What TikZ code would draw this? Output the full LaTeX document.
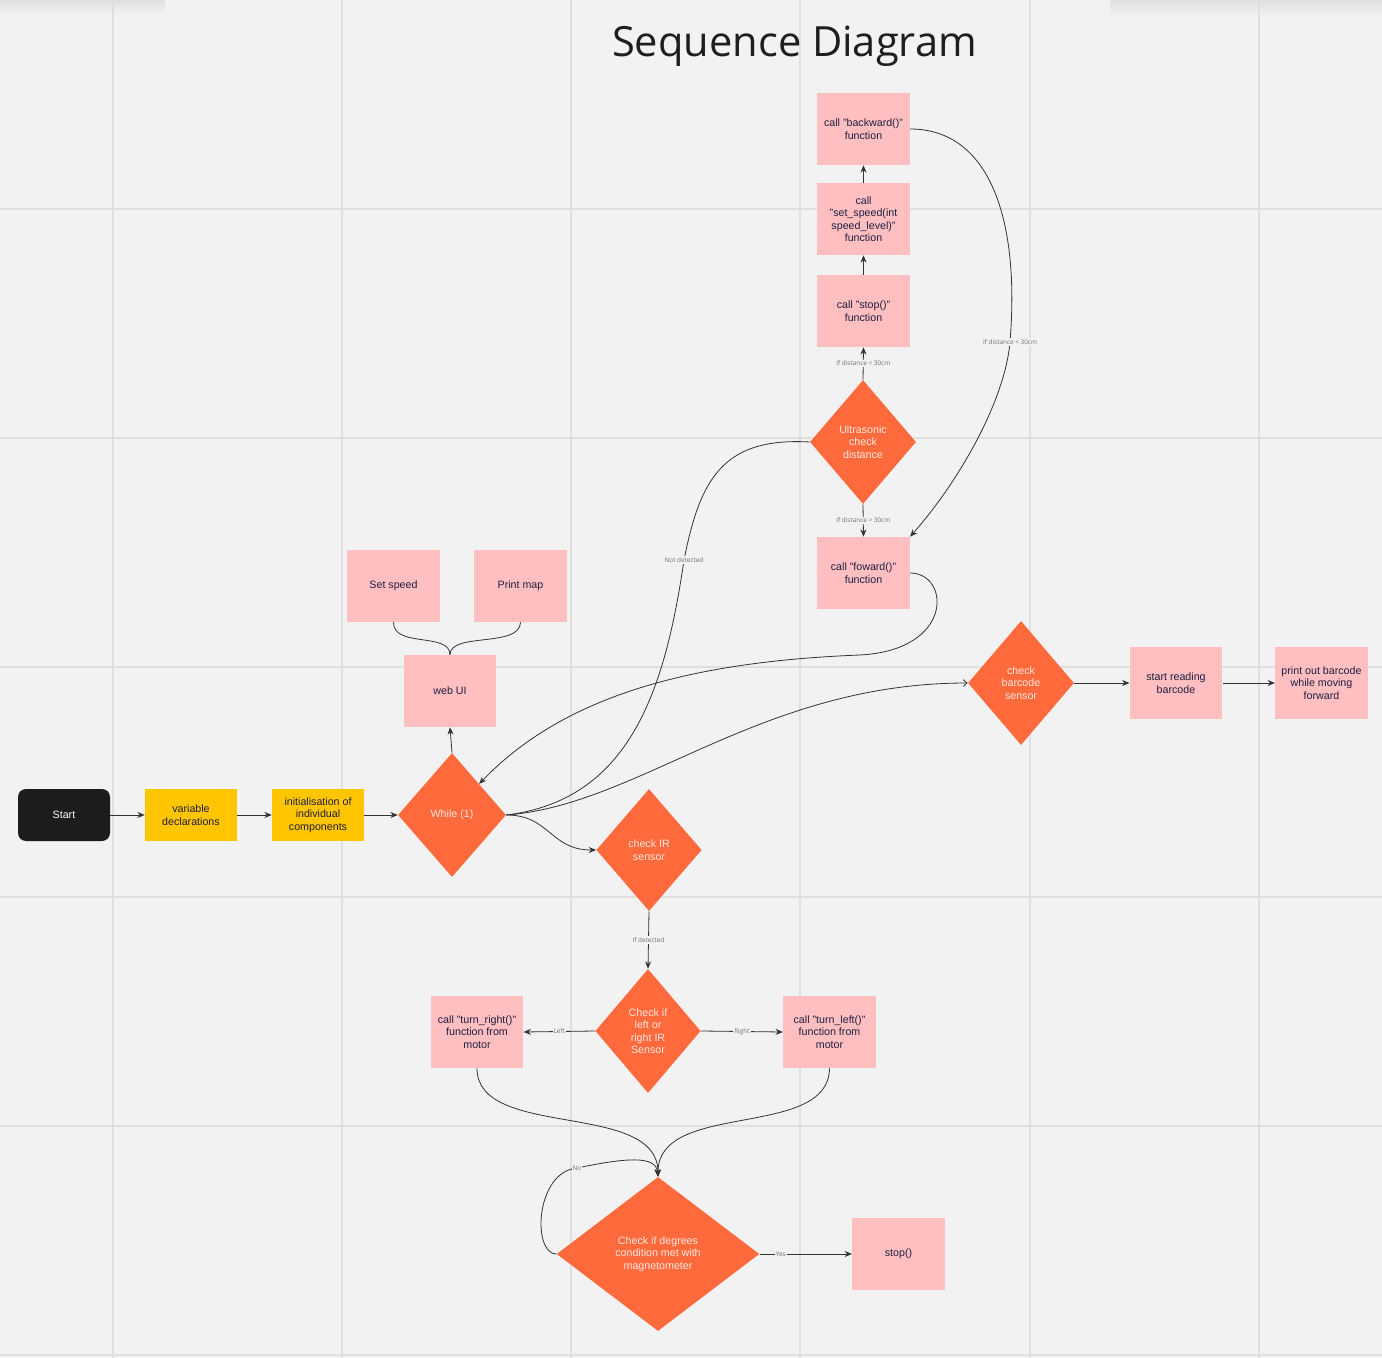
\documentclass[tikz,border=0pt]{standalone}
\usepackage{fontspec}
\setmainfont{Liberation Sans}
\newfontfamily\titlefont{Open Sans}
\usetikzlibrary{shapes.geometric,arrows.meta,fadings}
\definecolor{bg}{HTML}{F2F2F2}
\definecolor{gridc}{HTML}{DFDFDF}
\definecolor{pinkc}{HTML}{FFBFC0}
\definecolor{yellc}{HTML}{FFC600}
\definecolor{orangec}{HTML}{FF6A3D}
\definecolor{startc}{HTML}{1C1C1C}
\definecolor{txtc}{HTML}{1E1E40}
\definecolor{dtxtc}{HTML}{FFE6DE}
\definecolor{linec}{HTML}{333333}
\definecolor{lblc}{HTML}{707070}
\definecolor{titlec}{HTML}{1E1E1E}
\begin{document}
\begin{tikzpicture}[x=0.75pt,y=-0.75pt,
  every node/.style={font={\fontsize{8}{9.4}\selectfont}, align=center},
  pinkbox/.style={rectangle, fill=pinkc, text=txtc, minimum width=69.5pt, minimum height=54pt, inner sep=1pt},
  yellbox/.style={rectangle, fill=yellc, text=txtc, minimum width=69pt, minimum height=39pt, inner sep=1pt},
  startbox/.style={rectangle, rounded corners=6pt, fill=startc, text=white, minimum width=69pt, minimum height=39pt},
  dia/.style={diamond, fill=orangec, text=dtxtc, inner sep=0pt},
  conn/.style={draw=linec, line width=0.6pt},
  arr/.style={conn, -{Stealth[length=5.5pt,width=4.5pt]}},
  barb/.style={conn, -{Straight Barb[length=3pt,width=5pt]}},
  lbl/.style={fill=bg, text=lblc, font={\titlefont\fontsize{4.8}{5}\selectfont}, inner sep=0.8pt}
]
\useasboundingbox (0,0) rectangle (1382,1358);
\fill[bg] (0,0) rectangle (1382,1358);
% faint shadows at the top corners
\fill[black, opacity=0.07, path fading=south] (0,0) rectangle (165,14);
\fill[black, opacity=0.07, path fading=south] (1110,0) rectangle (1382,16);
% grid
\foreach \gx in {113,342,571,800,1030,1259} \draw[gridc, line width=1.5pt] (\gx,0) -- (\gx,1358);
\foreach \gy in {209,438,667,897,1126,1355} \draw[gridc, line width=1.5pt] (0,\gy) -- (1382,\gy);

% title
\node[font={\titlefont\fontsize{31.2}{38}\selectfont}, text=titlec, anchor=base] (title) at (794.5,57) {Sequence Diagram};

% main row
\node[startbox] (start) at (64,815) {Start};
\node[yellbox] (vars) at (191,815) {variable\\declarations};
\node[yellbox] (init) at (318,815) {initialisation of\\individual\\components};
\node[dia, minimum width=81pt, minimum height=93pt] (while) at (452,815) {While (1)};

% web UI
\node[pinkbox] (webui) at (450,691) {web UI};
\node[pinkbox] (setspeed) at (393.5,586) {Set speed};
\node[pinkbox] (printmap) at (520.5,586) {Print map};

% ultrasonic column
\node[dia, minimum width=79.5pt, minimum height=93pt] (ultra) at (863,442) {Ultrasonic\\check\\distance};
\node[pinkbox] (stopf) at (863.5,311) {call "stop()"\\function};
\node[pinkbox] (setsp) at (863.5,219) {call\\"set\_speed(int\\speed\_level)"\\function};
\node[pinkbox] (back) at (863.5,129) {call "backward()"\\function};
\node[pinkbox] (fwd) at (863.5,573) {call "foward()"\\function};

% barcode row
\node[dia, minimum width=79.5pt, minimum height=93pt] (barcode) at (1021,683) {check\\barcode\\sensor};
\node[pinkbox] (reading) at (1176,683) {start reading\\barcode};
\node[pinkbox] (printbc) at (1321.5,683) {print out barcode\\while moving\\forward};

% IR part
\node[dia, minimum width=79pt, minimum height=91.5pt] (ir) at (649,850) {check IR\\sensor};
\node[dia, minimum width=79pt, minimum height=93pt] (lr) at (648,1031) {Check if\\left or\\right IR\\Sensor};
\node[pinkbox] (tright) at (477,1032) {call "turn\_right()"\\function from\\motor};
\node[pinkbox] (tleft) at (829.5,1032) {call "turn\_left()"\\function from\\motor};
\node[dia, minimum width=152pt, minimum height=115.5pt] (deg) at (658,1254) {Check if degrees\\condition met with\\magnetometer};
\node[pinkbox] (stopn) at (898.5,1254) {stop()};

% connectors: main row
\draw[arr] (start) -- (vars);
\draw[arr] (vars) -- (init);
\draw[arr] (init) -- (while);
\draw[arr] (while.north) -- (webui.south);
\draw[conn] (setspeed.south) .. controls (393,648) and (450,632) .. (webui.north);
\draw[conn] (printmap.south) .. controls (520,648) and (450,632) .. (webui.north);

% while -> IR
\draw[arr] (while.east) .. controls (550,815) and (550,850) .. (ir.west);
% while -> barcode
\draw[barb] (while.east) .. controls (640,805) and (760,683) .. (barcode.west);
% not detected
\draw[conn] (ultra.west) .. controls (722,437) and (700,480) .. (684,560) node[lbl] {Not detected}
  .. controls (665,690) and (630,800) .. (while.east);

% ultrasonic column
\draw[arr] (ultra.north) -- node[lbl] {If distance < 30cm} (stopf.south);
\draw[arr] (stopf.north) -- (setsp.south);
\draw[arr] (setsp.north) -- (back.south);
\draw[arr] (ultra.south) -- node[lbl] {If distance > 30cm} (fwd.north);
\draw[arr] (back.east) .. controls (990,129) and (1020,220) .. (1010,342) node[lbl] {If distance < 30cm}
  .. controls (1005,400) and (960,480) .. (fwd.north east);
\draw[arr] (fwd.east) .. controls (950,573) and (955,650) .. (860,655)
  .. controls (680,662) and (560,700) .. (while.north east);

% barcode row
\draw[arr] (barcode.east) -- (reading.west);
\draw[arr] (reading.east) -- (printbc.west);

% IR part
\draw[arr] (ir.south) -- node[lbl] {If detected} (lr.north);
\draw[arr] (lr.west) -- node[lbl] {Left} (tright.east);
\draw[arr] (lr.east) -- node[lbl] {Right} (tleft.west);
\draw[arr] (tright.south) .. controls (477,1140) and (658,1100) .. (deg.north);
\draw[arr] (tleft.south) .. controls (829,1140) and (658,1100) .. (deg.north);
\draw[arr] (deg.west) .. controls (532,1254) and (535,1172) .. (577,1168) node[lbl] {No}
  .. controls (625,1158) and (656,1155) .. (deg.north);
\draw[arr] (deg.east) -- node[lbl, pos=0.23] {Yes} (stopn.west);
\end{tikzpicture}
\end{document}
